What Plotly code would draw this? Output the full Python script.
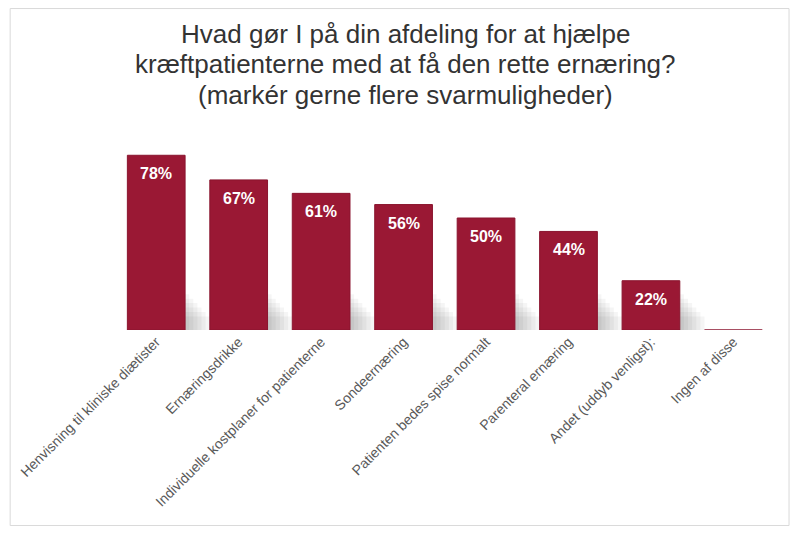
import plotly.graph_objects as go

# survey answers (share of respondents, %)
categories = [
    "Henvisning til kliniske diætister",
    "Ernæringsdrikke",
    "Individuelle kostplaner for patienterne",
    "Sondeernæring",
    "Patienten bedes spise normalt",
    "Parenteral ernæring",
    "Andet (uddyb venligst):",
    "Ingen af disse",
]
values = [78, 67, 61, 56, 50, 44, 22, 0]
labels = ["78%", "67%", "61%", "56%", "50%", "44%", "22%", ""]

title_lines = [
    "Hvad gør I på din afdeling for at hjælpe",
    "kræftpatienterne med at få den rette ernæring?",
    "(markér gerne flere svarmuligheder)",
]

bar_color = "#9a1834"
font = "Liberation Sans, Arial, sans-serif"

fig = go.Figure()

# soft drop shadow behind each bar (several faint layers to fake a blur)
for shift, h in [(0.05, 16), (0.10, 14), (0.15, 12), (0.20, 10), (0.25, 8), (0.30, 6)]:
    fig.add_trace(go.Bar(
        x=categories,
        y=[h if v > 0 else 0 for v in values],
        width=0.7,
        offset=-0.35 + shift,
        base=0,
        marker=dict(color="rgba(0,0,0,0.04)", line_width=0),
        hoverinfo="skip",
        showlegend=False,
    ))

fig.add_trace(go.Bar(
    x=categories,
    y=values,
    width=0.7,
    marker=dict(color=bar_color, line=dict(color="#8a142e", width=1)),
    showlegend=False,
))

# white percentage labels near the top of each bar
for c, v, t in zip(categories, values, labels):
    if t:
        fig.add_annotation(
            x=c, y=v, text=t, showarrow=False,
            yanchor="top", yshift=-8,
            font=dict(family=font, size=16, color="white", weight="bold"),
        )

# three-line heading, spaced like the original slide
for line, ypos in zip(title_lines, [1.321, 1.186, 1.047]):
    fig.add_annotation(
        xref="paper", yref="paper", x=0.432, y=ypos,
        xanchor="center", yanchor="middle", showarrow=False,
        text=line, font=dict(family=font, size=26, color="#333333"),
    )

# light frame round the whole chart
fig.add_shape(
    type="rect", xref="paper", yref="paper",
    x0=-0.156, x1=1.003, y0=-0.873, y1=1.435,
    line=dict(color="#d9d9d9", width=1), fillcolor="rgba(0,0,0,0)",
    layer="below",
)

fig.update_layout(
    width=784, height=518,
    margin=dict(l=107, r=5, t=98, b=196),
    barmode="overlay",
    paper_bgcolor="white",
    plot_bgcolor="white",
    xaxis=dict(
        tickangle=-45, automargin=False,
        showline=False, showgrid=False, ticks="",
        tickfont=dict(family=font, size=14, color="#595959"),
    ),
    yaxis=dict(range=[0, 100], visible=False),
)

fig.write_html("out.html")
